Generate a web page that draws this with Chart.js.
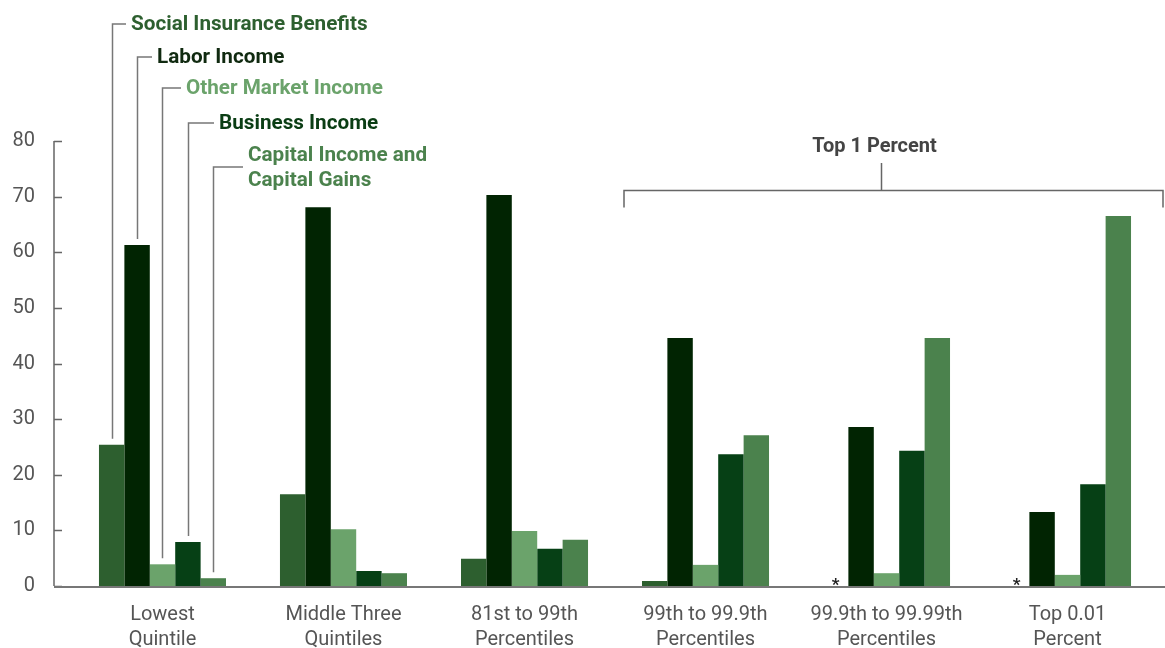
<!DOCTYPE html>
<html>
<head>
<meta charset="utf-8">
<script src="https://cdn.jsdelivr.net/npm/chart.js@4.4.1/dist/chart.umd.min.js"></script>
<style>
  html, body { margin: 0; padding: 0; background: #fff; }
  #wrap { width: 1165px; height: 648px; position: relative; }
</style>
</head>
<body>
<div id="wrap"><canvas id="incomeChart"></canvas></div>
<script>
// income groups (two-line tick labels)
const groups = [
  ['Lowest', 'Quintile'],
  ['Middle Three', 'Quintiles'],
  ['81st to 99th', 'Percentiles'],
  ['99th to 99.9th', 'Percentiles'],
  ['99.9th to 99.99th', 'Percentiles'],
  ['Top 0.01', 'Percent']
];

// share of income by source, percent
const socialInsurance = [25.4, 16.5, 4.9, 0.9, 0, 0];
const laborIncome = [61.3, 68.1, 70.3, 44.6, 28.6, 13.3];
const otherMarket = [3.9, 10.2, 9.9, 3.8, 2.3, 2.0];
const businessIncome = [7.9, 2.7, 6.7, 23.7, 24.3, 18.3];
const capitalIncome = [1.4, 2.3, 8.3, 27.1, 44.6, 66.5];

// groups where social insurance is too small to show (marked with *)
const tinyShare = [false, false, false, false, true, true];

const yTicks = [0, 10, 20, 30, 40, 50, 60, 70, 80];

const seriesNames = [
  'Social Insurance Benefits',
  'Labor Income',
  'Other Market Income',
  'Business Income',
  ['Capital Income and', 'Capital Gains']
];
const seriesColors = ['#2d5f2f', '#012402', '#6ba36b', '#064015', '#4b824d'];
const nameColors = ['#2d5f2f', '#102a10', '#6ba36b', '#0a3d14', '#4b824d'];

const bracketLabel = 'Top 1 Percent';

const FONT = 'Roboto, "Liberation Sans", sans-serif';

// axes, asterisks, leader lines from each series name, and the top 1 percent bracket
const calloutPlugin = {
  id: 'callouts',
  afterDraw(chart) {
    const ctx = chart.ctx;
    const x = chart.scales.x;
    const y = chart.scales.y;
    const zeroY = y.getPixelForValue(0);
    const axisX = 54;

    ctx.save();

    // y axis line with inward ticks
    ctx.strokeStyle = '#666';
    ctx.lineWidth = 1.5;
    ctx.beginPath();
    ctx.moveTo(axisX, y.getPixelForValue(80));
    ctx.lineTo(axisX, zeroY);
    yTicks.forEach(v => {
      const py = Math.round(y.getPixelForValue(v)) + 0.5;
      ctx.moveTo(axisX, py);
      ctx.lineTo(axisX + 8, py);
    });
    ctx.stroke();

    // baseline
    ctx.strokeStyle = '#777';
    ctx.lineWidth = 2;
    ctx.beginPath();
    ctx.moveTo(axisX, zeroY + 1);
    ctx.lineTo(chart.width, zeroY + 1);
    ctx.stroke();

    // asterisks for tiny shares
    const firstMeta = chart.getDatasetMeta(0);
    ctx.fillStyle = '#222';
    ctx.font = 'bold 17px ' + FONT;
    ctx.textAlign = 'center';
    ctx.textBaseline = 'alphabetic';
    tinyShare.forEach((flag, i) => {
      if (!flag) return;
      const bar = firstMeta.data[i];
      ctx.fillText('*', bar.x, zeroY + 4);
    });

    // series name callouts
    const lineYs = [24, 57, 88, 123, 167];
    const textXs = [131, 157, 186, 219, 248];
    ctx.font = 'bold 21px ' + FONT;
    ctx.textAlign = 'left';
    ctx.textBaseline = 'middle';
    seriesNames.forEach((name, i) => {
      const bar = chart.getDatasetMeta(i).data[0];
      const lx = Math.round(bar.x) + 0.5;
      ctx.strokeStyle = '#777';
      ctx.lineWidth = 1.5;
      ctx.beginPath();
      ctx.moveTo(lx, bar.y - 6);
      ctx.lineTo(lx, lineYs[i]);
      ctx.lineTo(textXs[i] - 5, lineYs[i]);
      ctx.stroke();

      ctx.fillStyle = nameColors[i];
      const lines = Array.isArray(name) ? name : [name];
      const top = lines.length > 1 ? lineYs[i] - 11 : lineYs[i] + 0.5;
      lines.forEach((t, k) => {
        ctx.save();
        ctx.translate(textXs[i], top + k * 25);
        ctx.scale(0.985, 1);
        ctx.fillText(t, 0, 0);
        ctx.restore();
      });
    });

    // bracket over the top 1 percent groups
    const left = x.getPixelForValue(3) - 81.5;
    const right = Math.min(x.getPixelForValue(5) + 96, chart.width - 2);
    const mid = x.getPixelForValue(4) - 5;
    const by = 190.5;
    ctx.strokeStyle = '#666';
    ctx.lineWidth = 1.5;
    ctx.beginPath();
    ctx.moveTo(left, by + 17);
    ctx.lineTo(left, by);
    ctx.lineTo(right, by);
    ctx.lineTo(right, by + 17);
    ctx.moveTo(mid, by);
    ctx.lineTo(mid, 163);
    ctx.stroke();

    ctx.fillStyle = '#444';
    ctx.font = 'bold 20px ' + FONT;
    ctx.textAlign = 'center';
    ctx.fillText(bracketLabel, mid - 7, 147);

    ctx.restore();
  }
};

const allSeries = [socialInsurance, laborIncome, otherMarket, businessIncome, capitalIncome];

new Chart(document.getElementById('incomeChart'), {
  type: 'bar',
  data: {
    labels: groups,
    datasets: allSeries.map((vals, i) => ({
      label: Array.isArray(seriesNames[i]) ? seriesNames[i].join(' ') : seriesNames[i],
      data: vals,
      backgroundColor: seriesColors[i],
      borderWidth: 0,
      barPercentage: 1,
      categoryPercentage: 0.702
    }))
  },
  options: {
    responsive: true,
    maintainAspectRatio: false,
    animation: false,
    layout: { padding: { top: 141, right: 7, left: 0, bottom: 0 } },
    plugins: {
      legend: { display: false },
      tooltip: { enabled: false }
    },
    scales: {
      x: {
        offset: true,
        grid: { display: false, drawTicks: false },
        border: { display: false },
        ticks: {
          color: '#555',
          padding: 16,
          maxRotation: 0,
          autoSkip: false,
          font: { family: FONT, size: 20, lineHeight: 1.25 }
        },
        afterFit(scale) { scale.height = 62; }
      },
      y: {
        min: 0,
        max: 80,
        grid: { display: false, drawTicks: false },
        border: { display: false },
        afterBuildTicks(scale) { scale.ticks = yTicks.map(v => ({ value: v })); },
        ticks: {
          color: '#555',
          padding: 37,
          font: { family: FONT, size: 20 }
        },
        afterFit(scale) { scale.width = 72; }
      }
    }
  },
  plugins: [calloutPlugin]
});
</script>
</body>
</html>
